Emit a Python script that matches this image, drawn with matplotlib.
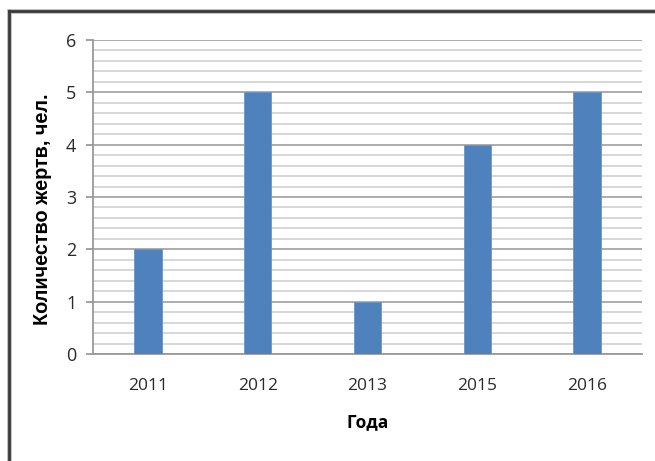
import matplotlib
matplotlib.use("Agg")
import matplotlib.pyplot as plt
from matplotlib.ticker import MultipleLocator
from matplotlib.lines import Line2D

years = ["2011", "2012", "2013", "2015", "2016"]
victims = [2, 5, 1, 4, 5]
y_ticks = [0, 1, 2, 3, 4, 5, 6]

fig = plt.figure(figsize=(6.55, 4.61), dpi=100)
ax = fig.add_axes([0.142, 0.2321, 0.838, 0.6811])

x = list(range(len(years)))
ax.bar(x, victims, width=0.25, color="#4F81BD", edgecolor="#6A95C9", linewidth=0.6, zorder=3)

ax.set_xlim(-0.5, len(years) - 0.5)
ax.set_ylim(0, 6)
ax.set_yticks(y_ticks)
ax.yaxis.set_minor_locator(MultipleLocator(0.2))
ax.grid(axis="y", which="major", color="#a6a6a6", linewidth=1.3, zorder=0)
ax.grid(axis="y", which="minor", color="#d4d4d4", linewidth=1.3, zorder=0)
ax.set_axisbelow(True)

ax.set_xticks(x)
ax.set_xticklabels(years)
for s in ["top", "right"]:
    ax.spines[s].set_visible(False)
for s in ["left", "bottom"]:
    ax.spines[s].set_color("#9a9a9a")
    ax.spines[s].set_linewidth(1.3)

ax.tick_params(axis="y", which="major", length=5, width=1.3, color="#9a9a9a",
               labelsize=13, labelcolor="#2a2a2a", pad=7)
ax.tick_params(axis="y", which="minor", length=0)
ax.tick_params(axis="x", length=0, labelsize=12.5, labelcolor="#2a2a2a", pad=17)
for lab in ax.get_xticklabels() + ax.get_yticklabels():
    lab.set_family("Open Sans")

ax.set_xlabel("Года", fontsize=12.5, fontweight="bold", family="Open Sans", labelpad=14)
fig.text(0.065, 0.547, "Количество жертв, чел.", rotation=90, ha="center", va="center",
         fontsize=14.3, fontweight="bold", family="Liberation Sans")

# figure frame (top and left edges)
fig.add_artist(Line2D([9.5 / 655, 1.0], [1 - 11.5 / 461, 1 - 11.5 / 461],
                      transform=fig.transFigure, color="#bdbdbd", linewidth=3.5))
fig.add_artist(Line2D([9.0 / 655, 9.0 / 655], [0.0, 1 - 11.5 / 461],
                      transform=fig.transFigure, color="#bdbdbd", linewidth=3.5))
fig.add_artist(Line2D([8.5 / 655, 1.0], [1 - 11 / 461, 1 - 11 / 461],
                      transform=fig.transFigure, color="#3a3a3a", linewidth=2))
fig.add_artist(Line2D([8.5 / 655, 8.5 / 655], [0.0, 1 - 11 / 461],
                      transform=fig.transFigure, color="#3a3a3a", linewidth=2))

fig.savefig("out.png", dpi=100)
